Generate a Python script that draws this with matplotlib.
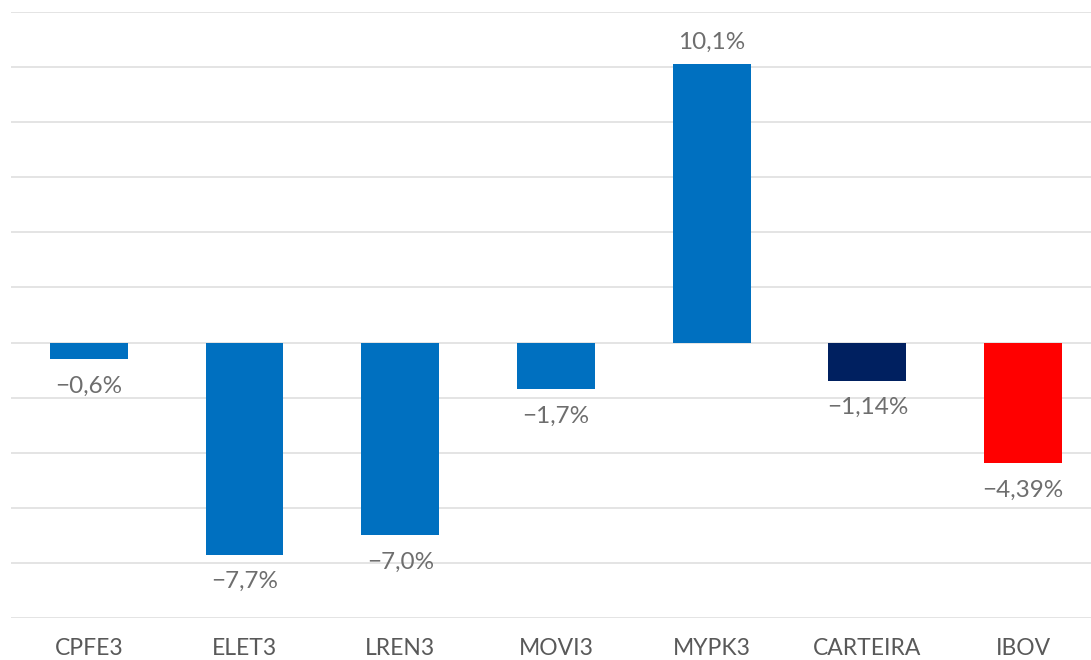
import matplotlib
matplotlib.use("Agg")
import matplotlib.pyplot as plt

categories = ["CPFE3", "ELET3", "LREN3", "MOVI3", "MYPK3", "CARTEIRA", "IBOV"]
values = [-0.6, -7.7, -7.0, -1.7, 10.1, -1.38, -4.39]
labels = ["-0,6%", "-7,7%", "-7,0%", "-1,7%", "10,1%", "-1,14%", "-4,39%"]
colors = ["#0070C0", "#0070C0", "#0070C0", "#0070C0", "#0070C0", "#002060", "#FF0000"]
yticks = list(range(-10, 13, 2))

plt.rcParams['font.family'] = ['Lato', 'DejaVu Sans']
fig = plt.figure(figsize=(10.91, 6.6), dpi=100)
ax = fig.add_axes([11/1091, 42/660, 1090/1091, 606/660])

x = list(range(len(categories)))
ax.bar(x, values, width=0.5, color=colors, zorder=3)
ax.set_xlim(-0.5, len(categories) - 0.5)
ax.set_ylim(-10, 12)
ax.set_yticks(yticks)
ax.yaxis.grid(True, color="#E4E4E4", linewidth=1.4, zorder=0)
ax.tick_params(axis='y', left=False, labelleft=False)
ax.tick_params(axis='x', bottom=False, pad=11, labelsize=16.5, labelcolor="#595959")
ax.set_xticks(x)
ax.set_xticklabels(categories)
for s in ax.spines.values():
    s.set_visible(False)

text_color = "#6E6E6E"
for xi, v, lab in zip(x, values, labels):
    txt = lab.replace("-", "\u2212")
    if v >= 0:
        ax.annotate(txt, (xi, v), xytext=(0, 16), textcoords="offset points",
                    ha="center", va="center", fontsize=17.5, color=text_color)
    else:
        ax.annotate(txt, (xi, v), xytext=(0, -19.5), textcoords="offset points",
                    ha="center", va="center", fontsize=17.5, color=text_color)

fig.savefig("out.png", dpi=100)
